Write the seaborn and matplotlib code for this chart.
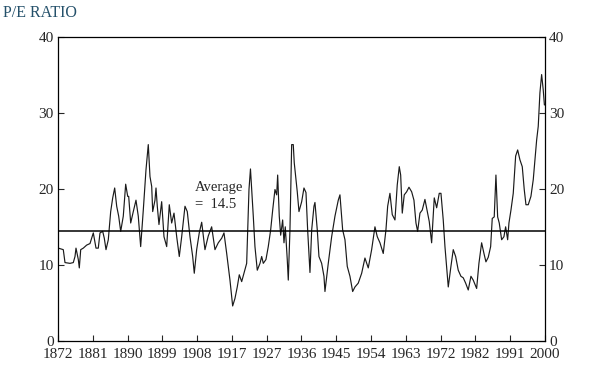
import numpy as np
import pandas as pd
import matplotlib
matplotlib.use("Agg")
import matplotlib.pyplot as plt
import seaborn as sns

# --- data (year, P/E) ---
years = [
    1872.08, 1873.39, 1873.84, 1875.15, 1876.02, 1876.47, 1876.73, 1877.34, 1877.60, 1877.97,
    1878.65, 1879.54, 1880.41, 1881.28, 1881.99, 1882.59, 1883.04, 1883.75, 1884.17, 1884.62,
    1885.22, 1885.85, 1886.38, 1886.90, 1887.43, 1887.95, 1888.48, 1889.16, 1889.79, 1890.32,
    1890.58, 1891.11, 1891.79, 1892.50, 1893.10, 1893.73, 1894.42, 1895.13, 1895.73, 1896.18,
    1896.63, 1896.89, 1897.49, 1897.76, 1898.10, 1898.54, 1899.25, 1899.86, 1900.57, 1901.25,
    1901.88, 1902.49, 1903.20, 1903.88, 1904.51, 1905.38, 1905.98, 1906.69, 1907.40, 1907.82,
    1908.45, 1909.13, 1909.77, 1910.63, 1911.50, 1912.39, 1913.26, 1914.13, 1915.02, 1915.63,
    1916.34, 1917.20, 1917.91, 1918.52, 1919.12, 1919.65, 1920.28, 1920.88, 1921.59, 1922.20,
    1922.59, 1923.33, 1923.77, 1924.38, 1925.09, 1925.54, 1925.96, 1926.66, 1927.27, 1927.90,
    1928.43, 1929.03, 1929.48, 1929.74, 1930.16, 1930.53, 1931.05, 1931.40, 1931.74, 1932.26,
    1932.53, 1932.97, 1933.42, 1933.84, 1934.10, 1934.47, 1934.89, 1935.34, 1936.05, 1936.65,
    1937.18, 1937.62, 1938.23, 1938.68, 1939.28, 1939.54, 1940.15, 1940.59, 1941.30, 1941.91,
    1942.17, 1943.04, 1943.93, 1944.80, 1945.67, 1946.11, 1946.82, 1947.43, 1948.03, 1948.74,
    1949.45, 1950.06, 1950.92, 1951.82, 1952.68, 1953.55, 1954.44, 1955.31, 1955.92, 1956.63,
    1957.49, 1958.20, 1958.65, 1959.25, 1959.86, 1960.57, 1961.17, 1961.70, 1962.07, 1962.49,
    1963.01, 1963.64, 1964.25, 1964.96, 1965.56, 1966.09, 1966.53, 1967.14, 1967.74, 1968.45,
    1969.06, 1969.58, 1970.21, 1970.90, 1971.53, 1972.21, 1972.66, 1973.26, 1973.71, 1974.58,
    1975.28, 1975.89, 1976.52, 1977.20, 1977.91, 1978.52, 1979.15, 1979.83, 1980.54, 1981.14,
    1982.04, 1982.64, 1983.35, 1983.96, 1984.48, 1985.09, 1985.72, 1986.14, 1986.66, 1987.11,
    1987.56, 1987.98, 1988.61, 1989.21, 1989.66, 1990.19, 1990.53, 1991.06, 1991.66, 1992.29,
    1992.82, 1993.42, 1994.03, 1994.55, 1995.00, 1995.60, 1996.31, 1996.92, 1997.36, 1997.81,
    1998.23, 1998.67, 1999.12, 1999.54, 1999.85,
]
pe_ratio = [
    12.2, 12.0, 10.3, 10.2, 10.3, 11.1, 12.2, 10.7, 9.6, 12.0,
    12.2, 12.6, 12.8, 14.2, 12.2, 12.2, 14.2, 14.4, 13.5, 12.0,
    13.3, 17.0, 18.8, 20.1, 17.7, 16.4, 14.4, 16.4, 20.6, 19.0,
    19.0, 15.5, 17.0, 18.5, 16.4, 12.4, 17.2, 22.5, 25.8, 21.6,
    20.3, 17.0, 18.5, 20.1, 17.7, 15.3, 18.3, 13.7, 12.4, 17.9,
    15.5, 16.8, 13.7, 11.1, 13.7, 17.7, 17.0, 13.7, 11.1, 8.9,
    12.0, 14.2, 15.6, 12.0, 13.8, 15.0, 12.0, 12.9, 13.5, 14.2,
    11.5, 8.0, 4.6, 5.6, 7.1, 8.7, 7.8, 8.9, 10.2, 19.9,
    22.6, 16.4, 12.4, 9.3, 10.2, 11.1, 10.2, 10.7, 12.4, 14.6,
    17.2, 19.9, 19.2, 21.8, 16.4, 13.9, 15.9, 12.9, 15.0, 10.7,
    8.0, 14.6, 25.8, 25.8, 23.4, 21.6, 19.6, 17.0, 18.3, 20.1,
    19.5, 14.6, 9.0, 14.6, 17.7, 18.2, 14.6, 11.1, 10.2, 8.5,
    6.5, 10.2, 13.7, 16.4, 18.5, 19.2, 14.6, 13.3, 9.8, 8.5,
    6.5, 7.1, 7.6, 8.9, 10.9, 9.6, 12.0, 15.0, 13.7, 12.9,
    11.5, 14.6, 17.7, 19.4, 16.6, 15.9, 20.5, 22.9, 21.8, 16.8,
    19.2, 19.6, 20.2, 19.6, 18.5, 15.5, 14.4, 16.8, 17.2, 18.6,
    17.0, 15.7, 12.9, 18.8, 17.5, 19.4, 19.4, 15.9, 12.4, 7.1,
    9.8, 12.0, 11.1, 9.3, 8.5, 8.3, 7.6, 6.7, 8.5, 8.0,
    6.9, 10.2, 12.9, 11.5, 10.4, 11.0, 12.4, 16.1, 16.3, 21.8,
    16.3, 15.5, 13.3, 13.7, 15.0, 13.3, 15.5, 17.2, 19.4, 24.3,
    25.1, 23.8, 22.9, 19.9, 17.9, 17.9, 19.0, 21.2, 23.8, 26.4,
    28.2, 32.6, 35.0, 33.0, 31.0,
]
tick_labels = ["1872", "1881", "1890", "1899", "1908", "1917", "1927", "1936",
               "1945", "1954", "1963", "1972", "1982", "1991", "2000"]
average_pe = 14.5

df = pd.DataFrame({"year": years, "pe": pe_ratio})

sns.set_style("ticks")
plt.rcParams["font.family"] = ["Liberation Serif", "DejaVu Serif"]

fig = plt.figure(figsize=(6.06, 3.76), dpi=100)
ax = fig.add_axes([0.0957, 0.0931, 0.8036, 0.8098])

sns.lineplot(data=df, x="year", y="pe", color="#1a1a1a", lw=0.85, ax=ax)
ax.axhline(average_pe, color="black", lw=1.1)
ax.text(1908.0, 21.0, "Average\n=  14.5", ha="left", va="top",
        fontsize=10.5, linespacing=1.35)

ax.set_xlim(1872, 2000)
ax.set_ylim(0, 40)
ax.set_xticks(np.linspace(1872, 2000, len(tick_labels)))
ax.set_xticklabels(tick_labels)
ax.set_yticks([0, 10, 20, 30, 40])
ax.set_xlabel("")
ax.set_ylabel("")
ax.tick_params(axis="x", direction="in", length=4, width=0.8, labelsize=11, pad=5)
ax.tick_params(axis="y", direction="in", length=4, width=0.8, labelsize=11,
               left=True, right=True, labelleft=True, labelright=True, pad=3)
for s in ax.spines.values():
    s.set_visible(True)
    s.set_linewidth(0.9)
    s.set_color("black")

fig.text(0.005, 0.988, "P/E RATIO", ha="left", va="top", fontsize=11.5,
         color="#24506a")

fig.savefig("out.png", dpi=100)
